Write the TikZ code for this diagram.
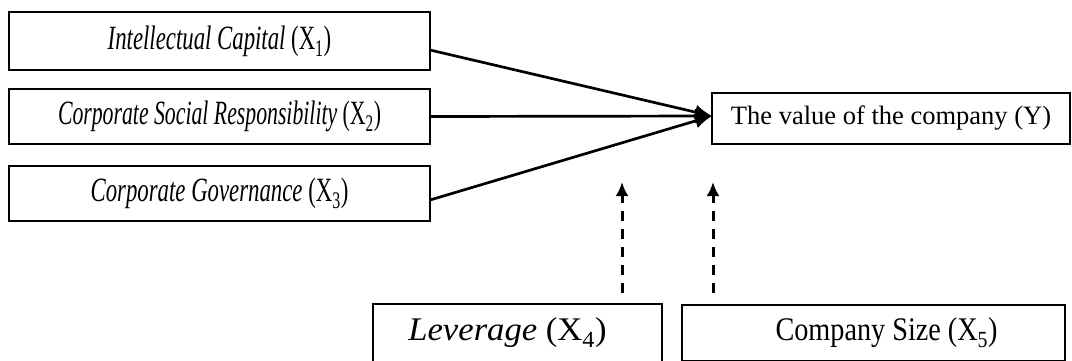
\documentclass[tikz,border=0pt]{standalone}
\usepackage{fontspec}
\setmainfont{Liberation Serif}
\newfontfamily\condA[FakeStretch=0.67]{Liberation Serif}
\newfontfamily\condC[FakeStretch=0.64]{Liberation Serif}
\newfontfamily\condB[FakeStretch=0.855]{Liberation Serif}
\newfontfamily\wideA[FakeStretch=1.05]{Liberation Serif}
\usetikzlibrary{arrows.meta}
\begin{document}
\begin{tikzpicture}[x=1pt,y=-1pt,
  box/.style={draw, line width=2pt, inner sep=0pt, outer sep=0pt, align=center},
  varbox/.style={box, minimum width=421pt, font=\condA\fontsize{34}{40}\selectfont},
  mainarrow/.style={line width=2.7pt, -{Latex[length=17pt,width=15pt]}},
  modarrow/.style={line width=3pt, dash pattern=on 10pt off 8pt, -{Latex[length=14pt,width=13pt]}}]
\useasboundingbox (0,0) rectangle (1072,360);
\clip (0,0) rectangle (1072,360);
\fill[white] (0,0) rectangle (1072,360);
% independent variables
\node[varbox, minimum height=58pt] (b1) at (219.5,41) {\itshape Intellectual Capital\upshape{} (X\textsubscript{1})};
\node[varbox, minimum height=55pt, font=\condC\fontsize{34}{40}\selectfont] (b2) at (219.5,116.5) {\itshape Corporate Social Responsibility\upshape{} (X\textsubscript{2})};
\node[varbox, minimum height=55pt] (b3) at (219.5,193.5) {\itshape Corporate Governance\upshape{} (X\textsubscript{3})};
% dependent variable
\node[box, minimum width=358pt, minimum height=51pt, font=\fontsize{26.5}{32}\selectfont] (y) at (891,118.5) {The value of the company (Y)};
% moderators
\node[box, minimum width=289pt, minimum height=58pt, font=\wideA\fontsize{33}{38}\selectfont] (lev) at (517.5,333) {\itshape Leverage\upshape{} (X\textsubscript{4})\hspace*{20pt}};
\node[box, minimum width=383pt, minimum height=56pt, font=\condB\fontsize{33}{38}\selectfont] (cs) at (873.5,333) {\hspace*{26pt}Company Size (X\textsubscript{5})};
% connectors
\coordinate (s1) at (430,50);
\coordinate (s3) at (430,200);
\coordinate (tip) at (712,116);
\draw[mainarrow] (s1) -- (tip);
\draw[mainarrow] (b2.east) -- (tip);
\draw[mainarrow] (s3) -- (tip);
\coordinate (m1s) at (622,293);
\coordinate (m1e) at (622,182);
\coordinate (m2s) at (713,293);
\coordinate (m2e) at (713,182);
\draw[modarrow] (m1s) -- (m1e);
\draw[modarrow] (m2s) -- (m2e);
\end{tikzpicture}
\end{document}
